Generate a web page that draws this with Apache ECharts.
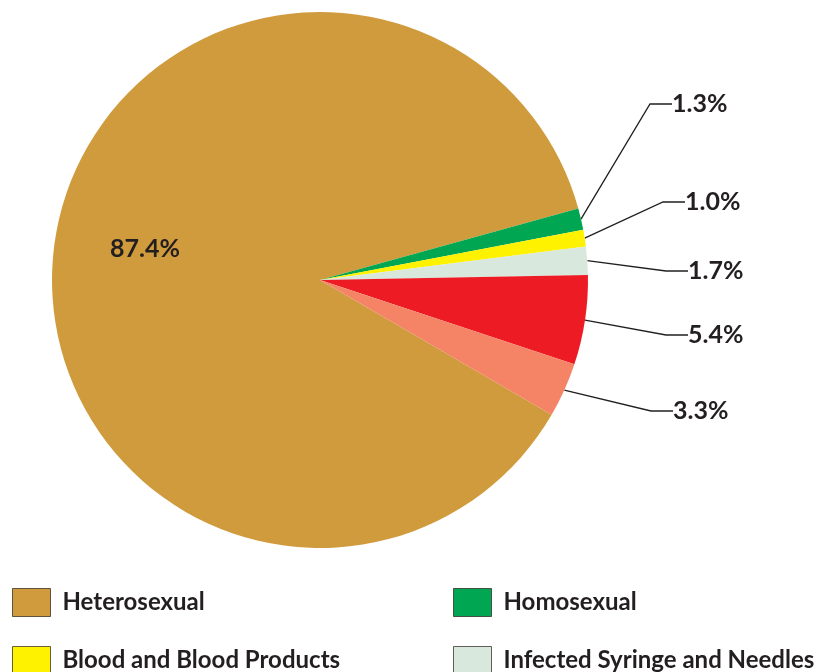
<!DOCTYPE html>
<html>
<head>
<meta charset="utf-8">
<script src="https://cdn.jsdelivr.net/npm/echarts@6/dist/echarts.min.js"></script>
<style>
  html, body { margin: 0; padding: 0; background: #fff; }
  #main { width: 834px; height: 672px; }
</style>
</head>
<body>
<div id="main"></div>
<script>
  // categories and shares (%)
  var categories = ['Heterosexual', 'Homosexual', 'Blood and Blood Products',
    'Infected Syringe and Needles', 'Mother to Child', 'Unknown'];
  var shares = [87.4, 1.3, 1.0, 1.7, 5.4, 3.3];
  var colors = ['#D09B3D', '#00A651', '#FFF200', '#D9E8DC', '#ED1C24', '#F58466'];

  // where the percentage labels sit
  var labelX = [145, 672, 685, 688, 688, 673];
  var labelY = [249, 104, 202, 271, 335, 411];

  var leftLegend = [categories[0], categories[2], categories[4]];
  var rightLegend = [categories[1], categories[3], categories[5]];

  var chart = echarts.init(document.getElementById('main'), null, {
    renderer: 'canvas'
  });

  var pieData = categories.map(function (name, i) {
    var item = {
      name: name,
      value: shares[i],
      itemStyle: { color: colors[i] }
    };
    if (i === 0) {
      item.label = { position: 'inside' };
      item.labelLine = { show: false };
    }
    return item;
  });

  var legendBase = {
    orient: 'vertical',
    top: 588,
    height: 300,
    padding: 0,
    itemWidth: 38,
    itemHeight: 28,
    itemGap: 29,
    icon: 'rect',
    selectedMode: false,
    itemStyle: { borderColor: 'rgba(40,30,20,0.7)', borderWidth: 1 },
    textStyle: {
      fontFamily: 'Lato',
      fontWeight: 'bold',
      fontSize: 24,
      color: '#231F20',
      padding: [0, 0, 0, 7]
    }
  };

  var option = {
    animation: false,
    backgroundColor: '#fff',
    legend: [
      Object.assign({}, legendBase, { left: 12, data: leftLegend }),
      Object.assign({}, legendBase, { left: 453, data: rightLegend })
    ],
    series: [{
      type: 'pie',
      center: [320, 280],
      radius: 268,
      startAngle: 329.8,
      clockwise: true,
      data: pieData,
      label: {
        show: true,
        formatter: function (p) { return p.value.toFixed(1) + '%'; },
        fontFamily: 'Lato',
        fontWeight: 'bold',
        fontSize: 25,
        color: '#231F20'
      },
      labelLine: {
        show: true,
        length: 20,
        length2: 22,
        lineStyle: { color: '#231F20', width: 1.3 }
      },
      labelLayout: function (p) {
        var i = p.dataIndex;
        if (i === 0) {
          return { x: labelX[i], y: labelY[i], align: 'center', verticalAlign: 'middle' };
        }
        return { x: labelX[i], y: labelY[i], align: 'left', verticalAlign: 'middle' };
      }
    }]
  };

  chart.setOption(option);
  window.addEventListener('resize', chart.resize);
</script>
</body>
</html>
